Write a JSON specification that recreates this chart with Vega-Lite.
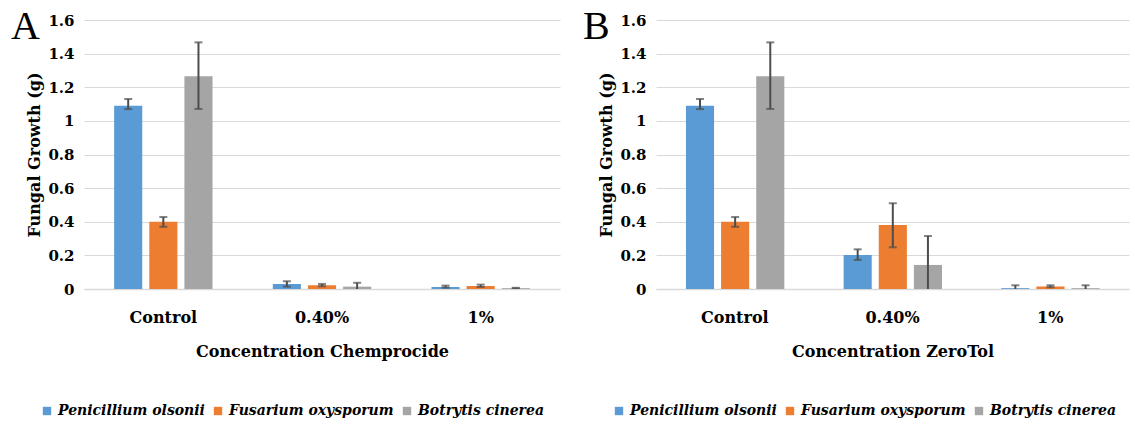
{
  "$schema": "https://vega.github.io/schema/vega-lite/v6.json",
  "background": "white",
  "padding": {"left": 10, "top": 7, "right": 5, "bottom": 5},
  "config": {
    "font": "DejaVu Serif",
    "view": {"stroke": null},
    "axis": {"labelFont": "DejaVu Serif", "titleFont": "DejaVu Serif", "labelFontWeight": "bold", "titleFontWeight": "bold", "labelColor": "#000000", "titleColor": "#000000", "ticks": false, "labelOverlap": false},
    "axisY": {"gridColor": "#D9D9D9", "gridWidth": 1, "domain": false, "labelFontSize": 15, "titleFontSize": 16, "labelPadding": 10, "titlePadding": 5},
    "axisX": {"domainColor": "#D9D9D9", "domainWidth": 1.5, "labelFontSize": 16, "titleFontSize": 16, "labelPadding": 20, "titlePadding": 18, "labelAngle": 0, "grid": false},
    "legend": {"orient": "none", "legendX": -44, "legendY": 384, "direction": "horizontal", "title": null, "labelFont": "DejaVu Serif", "labelFontStyle": "italic", "labelFontWeight": "bold", "labelFontSize": 14, "labelLimit": 0, "labelColor": "#000000", "symbolType": "square", "symbolSize": 70, "symbolStrokeWidth": 0, "columnPadding": 6, "labelOffset": 4},
    "title": {"font": "Liberation Serif", "fontSize": 40, "fontWeight": "normal", "anchor": "start", "frame": "bounds", "color": "#000000"}
  },
  "datasets": {
    "growth": [
      {"panel": "A", "conc": "Control", "species": "Penicillium olsonii", "mean": 1.09, "lo": 1.07, "hi": 1.13},
      {"panel": "A", "conc": "Control", "species": "Fusarium oxysporum", "mean": 0.40, "lo": 0.37, "hi": 0.428},
      {"panel": "A", "conc": "Control", "species": "Botrytis cinerea", "mean": 1.266, "lo": 1.071, "hi": 1.467},
      {"panel": "A", "conc": "0.40%", "species": "Penicillium olsonii", "mean": 0.03, "lo": 0.014, "hi": 0.046},
      {"panel": "A", "conc": "0.40%", "species": "Fusarium oxysporum", "mean": 0.022, "lo": 0.016, "hi": 0.03},
      {"panel": "A", "conc": "0.40%", "species": "Botrytis cinerea", "mean": 0.014, "lo": -0.01, "hi": 0.037},
      {"panel": "A", "conc": "1%", "species": "Penicillium olsonii", "mean": 0.012, "lo": 0.008, "hi": 0.02},
      {"panel": "A", "conc": "1%", "species": "Fusarium oxysporum", "mean": 0.018, "lo": 0.012, "hi": 0.026},
      {"panel": "A", "conc": "1%", "species": "Botrytis cinerea", "mean": 0.005, "lo": 0.003, "hi": 0.007},
      {"panel": "B", "conc": "Control", "species": "Penicillium olsonii", "mean": 1.09, "lo": 1.07, "hi": 1.13},
      {"panel": "B", "conc": "Control", "species": "Fusarium oxysporum", "mean": 0.40, "lo": 0.37, "hi": 0.428},
      {"panel": "B", "conc": "Control", "species": "Botrytis cinerea", "mean": 1.266, "lo": 1.071, "hi": 1.467},
      {"panel": "B", "conc": "0.40%", "species": "Penicillium olsonii", "mean": 0.202, "lo": 0.173, "hi": 0.236},
      {"panel": "B", "conc": "0.40%", "species": "Fusarium oxysporum", "mean": 0.381, "lo": 0.248, "hi": 0.51},
      {"panel": "B", "conc": "0.40%", "species": "Botrytis cinerea", "mean": 0.143, "lo": -0.035, "hi": 0.315},
      {"panel": "B", "conc": "1%", "species": "Penicillium olsonii", "mean": 0.005, "lo": -0.01, "hi": 0.022},
      {"panel": "B", "conc": "1%", "species": "Fusarium oxysporum", "mean": 0.015, "lo": 0.01, "hi": 0.022},
      {"panel": "B", "conc": "1%", "species": "Botrytis cinerea", "mean": 0.005, "lo": -0.01, "hi": 0.022}
    ]
  },
  "data": {"name": "growth"},
  "resolve": {"scale": {"color": "independent"}},
  "spacing": 22,
  "hconcat": [
    {
      "title": {"text": "A", "dx": -16, "dy": 38},
      "width": 476,
      "height": 269,
      "transform": [{"filter": "datum.panel === 'A'"}],
      "encoding": {
        "x": {"field": "conc", "type": "nominal", "sort": ["Control", "0.40%", "1%"], "scale": {"paddingInner": 0.38, "paddingOuter": 0.19}, "axis": {"title": "Concentration Chemprocide"}},
        "xOffset": {"field": "species", "type": "nominal", "scale": {"domain": ["Penicillium olsonii", "Fusarium oxysporum", "Botrytis cinerea"], "paddingInner": 0.2, "paddingOuter": 0}}
      },
      "layer": [
        {
          "mark": {"type": "bar"},
          "encoding": {
            "y": {"field": "mean", "type": "quantitative", "scale": {"domain": [0, 1.6], "nice": false}, "axis": {"title": "Fungal Growth (g)", "values": [0, 0.2, 0.4, 0.6, 0.8, 1, 1.2, 1.4, 1.6], "format": ".1~f", "labelOverlap": false}},
            "color": {"field": "species", "type": "nominal", "scale": {"domain": ["Penicillium olsonii", "Fusarium oxysporum", "Botrytis cinerea"], "range": ["#5B9BD5", "#ED7D31", "#A5A5A5"]}}
          }
        },
        {
          "mark": {"type": "rule", "color": "#4D4D4D", "strokeWidth": 2, "clip": true},
          "encoding": {"y": {"field": "lo", "type": "quantitative", "axis": {"title": "Fungal Growth (g)", "values": [0, 0.2, 0.4, 0.6, 0.8, 1, 1.2, 1.4, 1.6], "format": ".1~f", "labelOverlap": false}}, "y2": {"field": "hi"}}
        },
        {
          "mark": {"type": "tick", "color": "#4D4D4D", "thickness": 2, "size": 8, "clip": true},
          "encoding": {"y": {"field": "hi", "type": "quantitative", "axis": {"title": "Fungal Growth (g)", "values": [0, 0.2, 0.4, 0.6, 0.8, 1, 1.2, 1.4, 1.6], "format": ".1~f", "labelOverlap": false}}}
        },
        {
          "mark": {"type": "tick", "color": "#4D4D4D", "thickness": 2, "size": 8, "clip": true},
          "encoding": {"y": {"field": "lo", "type": "quantitative", "axis": {"title": "Fungal Growth (g)", "values": [0, 0.2, 0.4, 0.6, 0.8, 1, 1.2, 1.4, 1.6], "format": ".1~f", "labelOverlap": false}}}
        }
      ]
    },
    {
      "title": {"text": "B", "dx": -16, "dy": 38},
      "width": 473,
      "height": 269,
      "transform": [{"filter": "datum.panel === 'B'"}],
      "encoding": {
        "x": {"field": "conc", "type": "nominal", "sort": ["Control", "0.40%", "1%"], "scale": {"paddingInner": 0.38, "paddingOuter": 0.19}, "axis": {"title": "Concentration ZeroTol"}},
        "xOffset": {"field": "species", "type": "nominal", "scale": {"domain": ["Penicillium olsonii", "Fusarium oxysporum", "Botrytis cinerea"], "paddingInner": 0.2, "paddingOuter": 0}}
      },
      "layer": [
        {
          "mark": {"type": "bar"},
          "encoding": {
            "y": {"field": "mean", "type": "quantitative", "scale": {"domain": [0, 1.6], "nice": false}, "axis": {"title": "Fungal Growth (g)", "values": [0, 0.2, 0.4, 0.6, 0.8, 1, 1.2, 1.4, 1.6], "format": ".1~f", "labelOverlap": false}},
            "color": {"field": "species", "type": "nominal", "scale": {"domain": ["Penicillium olsonii", "Fusarium oxysporum", "Botrytis cinerea"], "range": ["#5B9BD5", "#ED7D31", "#A5A5A5"]}}
          }
        },
        {
          "mark": {"type": "rule", "color": "#4D4D4D", "strokeWidth": 2, "clip": true},
          "encoding": {"y": {"field": "lo", "type": "quantitative", "axis": {"title": "Fungal Growth (g)", "values": [0, 0.2, 0.4, 0.6, 0.8, 1, 1.2, 1.4, 1.6], "format": ".1~f", "labelOverlap": false}}, "y2": {"field": "hi"}}
        },
        {
          "mark": {"type": "tick", "color": "#4D4D4D", "thickness": 2, "size": 8, "clip": true},
          "encoding": {"y": {"field": "hi", "type": "quantitative", "axis": {"title": "Fungal Growth (g)", "values": [0, 0.2, 0.4, 0.6, 0.8, 1, 1.2, 1.4, 1.6], "format": ".1~f", "labelOverlap": false}}}
        },
        {
          "mark": {"type": "tick", "color": "#4D4D4D", "thickness": 2, "size": 8, "clip": true},
          "encoding": {"y": {"field": "lo", "type": "quantitative", "axis": {"title": "Fungal Growth (g)", "values": [0, 0.2, 0.4, 0.6, 0.8, 1, 1.2, 1.4, 1.6], "format": ".1~f", "labelOverlap": false}}}
        }
      ]
    }
  ]
}
